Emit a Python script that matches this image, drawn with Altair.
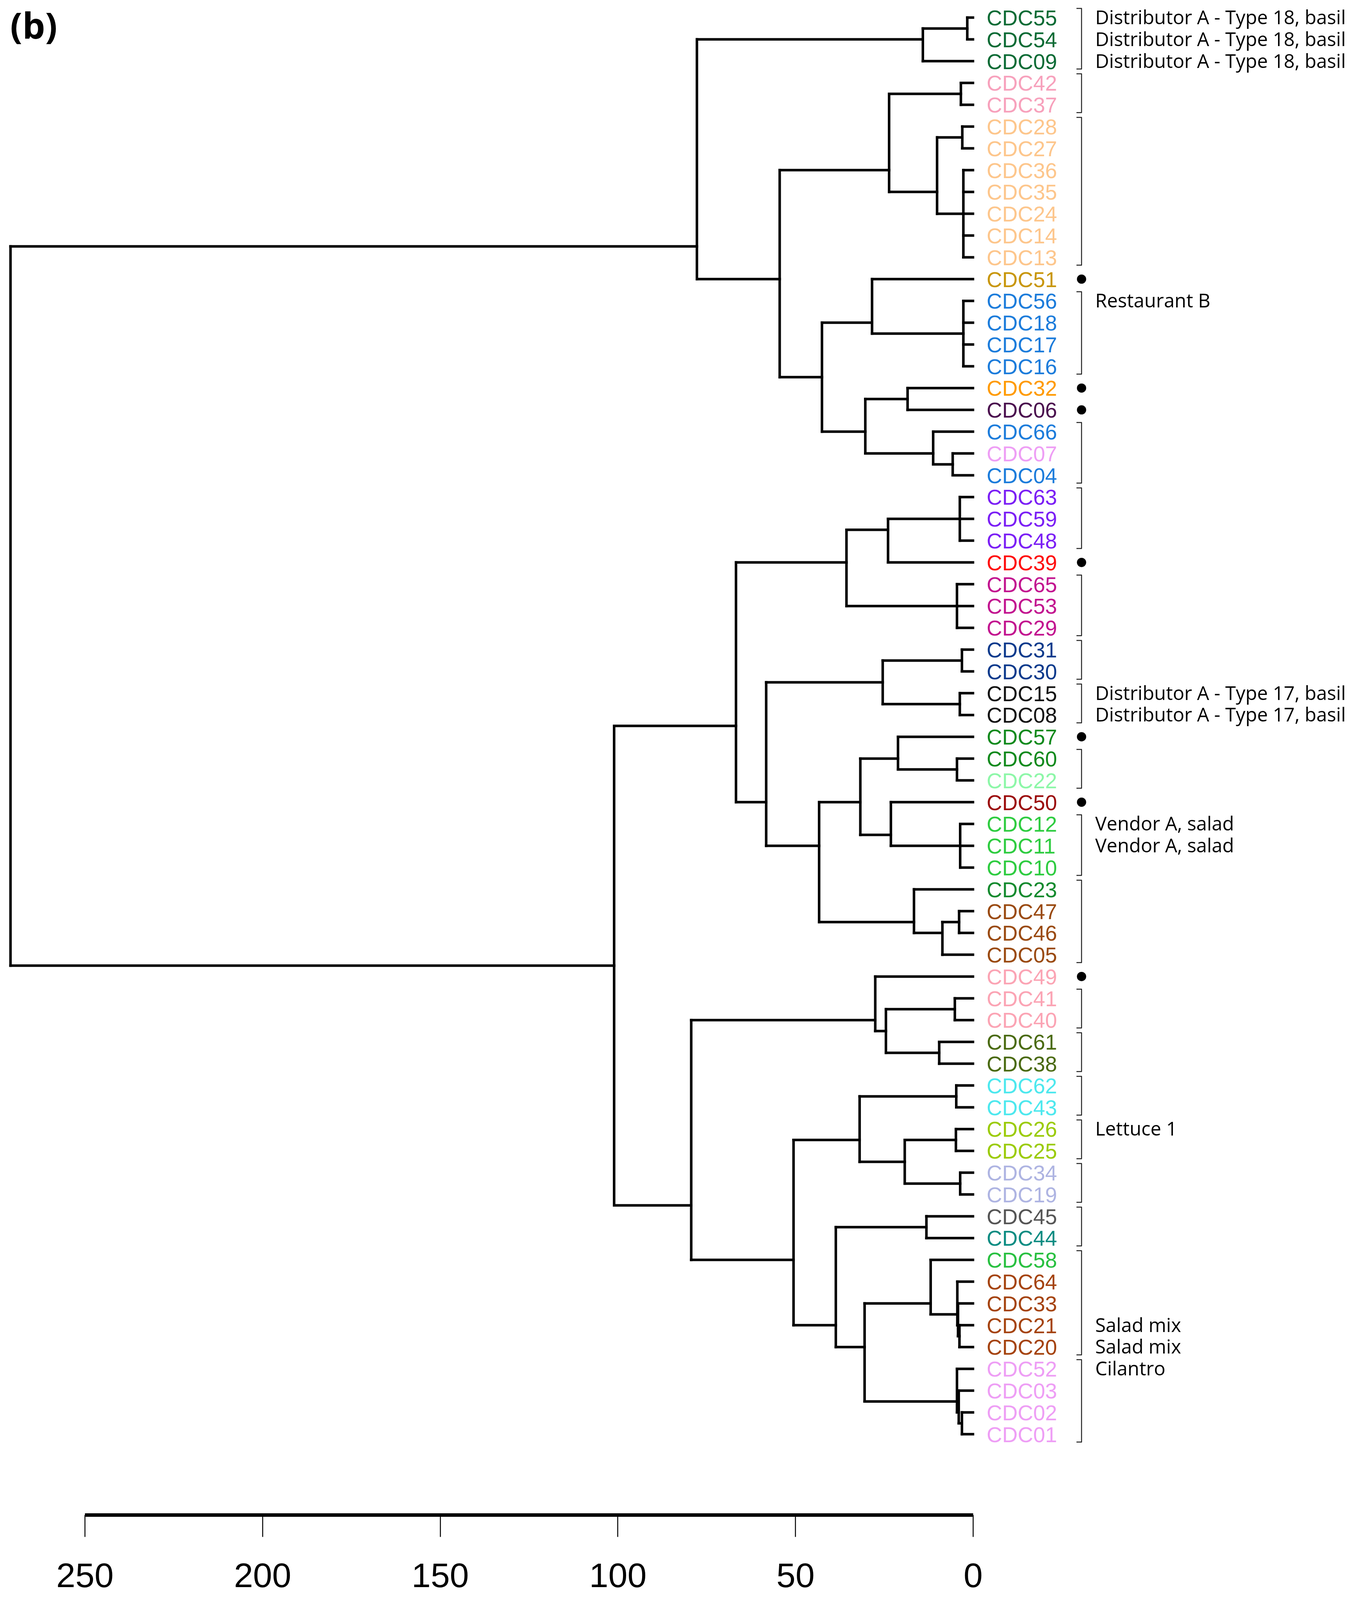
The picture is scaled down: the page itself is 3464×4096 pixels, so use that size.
import altair as alt
import pandas as pd

# ---------------- data ----------------
leaves = ["CDC55", "CDC54", "CDC09", "CDC42", "CDC37", "CDC28", "CDC27", "CDC36",
          "CDC35", "CDC24", "CDC14", "CDC13", "CDC51", "CDC56", "CDC18", "CDC17",
          "CDC16", "CDC32", "CDC06", "CDC66", "CDC07", "CDC04", "CDC63", "CDC59",
          "CDC48", "CDC39", "CDC65", "CDC53", "CDC29", "CDC31", "CDC30", "CDC15",
          "CDC08", "CDC57", "CDC60", "CDC22", "CDC50", "CDC12", "CDC11", "CDC10",
          "CDC23", "CDC47", "CDC46", "CDC05", "CDC49", "CDC41", "CDC40", "CDC61",
          "CDC38", "CDC62", "CDC43", "CDC26", "CDC25", "CDC34", "CDC19", "CDC45",
          "CDC44", "CDC58", "CDC64", "CDC33", "CDC21", "CDC20", "CDC52", "CDC03",
          "CDC02", "CDC01"]

leaf_colors = ["#0B6B35", "#0B6B35", "#0B6B35", "#F7A1BC", "#F7A1BC", "#FDC68C", "#FDC68C", "#FDC68C",
               "#FDC68C", "#FDC68C", "#FDC68C", "#FDC68C", "#C8960A", "#1C7CDB", "#1C7CDB", "#1C7CDB",
               "#1C7CDB", "#FF9A00", "#4A0E4E", "#1C7CDB", "#EE9EF5", "#1C7CDB", "#7B1FF5", "#7B1FF5",
               "#7B1FF5", "#FF0A0A", "#C2138F", "#C2138F", "#C2138F", "#0B3A8C", "#0B3A8C", "#111111",
               "#111111", "#118A1D", "#118A1D", "#8DF7A8", "#9B0A0A", "#2ECC40", "#2ECC40", "#2ECC40",
               "#138A2E", "#9A4A10", "#9A4A10", "#9A4A10", "#FBA4B4", "#FBA4B4", "#FBA4B4", "#4A6A10",
               "#4A6A10", "#4DE8EE", "#4DE8EE", "#9BCB08", "#9BCB08", "#AEB4E2", "#AEB4E2", "#555555",
               "#0A8C82", "#28C040", "#A5430E", "#A5430E", "#A5430E", "#A5430E", "#EE9EF5", "#EE9EF5",
               "#EE9EF5", "#EE9EF5"]

merge_names = ["n1", "n2", "n3", "n4", "n5", "n6", "n7", "n8", "n9", "n10", "n11", "n12",
               "n13", "n14", "n15", "n16", "n17", "n18", "n19", "n20", "n21", "n22", "n23",
               "n24", "n25", "n26", "n27", "n28", "n29", "n30", "n31", "n32", "n33", "n34",
               "n35", "n36", "n37", "n38", "n39", "n40", "n41", "n42", "n43", "n44", "n45",
               "n46", "n47", "n48", "n49", "n50", "n51", "n52", "n53", "n54", "n55", "n56",
               "root"]
merge_children = [
    ["CDC55", "CDC54"], ["n1", "CDC09"], ["CDC42", "CDC37"], ["CDC28", "CDC27"],
    ["CDC36", "CDC35", "CDC24", "CDC14", "CDC13"], ["n4", "n5"], ["n3", "n6"],
    ["CDC56", "CDC18", "CDC17", "CDC16"], ["CDC51", "n8"], ["CDC32", "CDC06"],
    ["CDC07", "CDC04"], ["CDC66", "n11"], ["n10", "n12"], ["n9", "n13"], ["n7", "n14"],
    ["n2", "n15"],
    ["CDC63", "CDC59", "CDC48"], ["n17", "CDC39"], ["CDC65", "CDC53", "CDC29"], ["n18", "n19"],
    ["CDC31", "CDC30"], ["CDC15", "CDC08"], ["n21", "n22"], ["CDC60", "CDC22"],
    ["CDC57", "n24"], ["CDC12", "CDC11", "CDC10"], ["CDC50", "n26"], ["n25", "n27"],
    ["CDC47", "CDC46"], ["n29", "CDC05"], ["CDC23", "n30"], ["n28", "n31"], ["n23", "n32"],
    ["n20", "n33"], ["CDC41", "CDC40"], ["CDC61", "CDC38"], ["n35", "n36"], ["CDC49", "n37"],
    ["CDC62", "CDC43"], ["CDC26", "CDC25"], ["CDC34", "CDC19"], ["n40", "n41"], ["n39", "n42"],
    ["CDC45", "CDC44"], ["CDC21", "CDC20"], ["CDC33", "n45"], ["CDC64", "n46"],
    ["CDC58", "n47"], ["CDC02", "CDC01"], ["CDC03", "n49"], ["CDC52", "n50"], ["n48", "n51"],
    ["n44", "n52"], ["n43", "n53"], ["n38", "n54"], ["n34", "n55"], ["n16", "n56"]]
merge_heights = [1.6, 14.1, 3.4, 3.0, 2.7, 10.1, 23.6, 2.7, 28.4, 18.4, 5.7, 11.2,
                 30.3, 42.5, 54.4, 77.7,
                 3.7, 23.9, 4.5, 35.6, 3.1, 3.7, 25.4, 4.5, 21.1, 3.6, 23.1, 31.7,
                 3.9, 8.6, 16.6, 43.3, 58.2, 66.7, 5.1, 9.5, 24.5, 27.5, 4.7, 4.8,
                 3.6, 19.2, 31.9, 13.1, 3.8, 4.2, 4.4, 11.9, 3.1, 4.0, 4.5, 30.5,
                 38.6, 50.5, 79.3, 101.0, 270.9]

dot_leaves = ["CDC51", "CDC32", "CDC06", "CDC39", "CDC57", "CDC50", "CDC49"]

bracket_first = ["CDC55", "CDC42", "CDC28", "CDC56", "CDC66", "CDC63", "CDC65", "CDC31",
                 "CDC15", "CDC60", "CDC12", "CDC23", "CDC41", "CDC61", "CDC62", "CDC26",
                 "CDC34", "CDC45", "CDC58", "CDC52"]
bracket_last = ["CDC09", "CDC37", "CDC13", "CDC16", "CDC04", "CDC48", "CDC29", "CDC30",
                "CDC08", "CDC22", "CDC10", "CDC05", "CDC40", "CDC38", "CDC43", "CDC25",
                "CDC19", "CDC44", "CDC20", "CDC01"]

note_leaves = ["CDC55", "CDC54", "CDC09", "CDC56", "CDC15", "CDC08", "CDC12", "CDC11",
               "CDC26", "CDC21", "CDC20", "CDC52"]
note_texts = ["Distributor A - Type 18, basil", "Distributor A - Type 18, basil",
              "Distributor A - Type 18, basil", "Restaurant B",
              "Distributor A - Type 17, basil", "Distributor A - Type 17, basil",
              "Vendor A, salad", "Vendor A, salad", "Lettuce 1", "Salad mix", "Salad mix",
              "Cilantro"]

axis_ticks = [0, 50, 100, 150, 200, 250]

# ---------------- build the tree geometry from the topology ----------------
pos = {name: i for i, name in enumerate(leaves)}
hgt = {name: 0.0 for name in leaves}
members = {name: [i] for i, name in enumerate(leaves)}
seg_rows = []
for name, kids, h in zip(merge_names, merge_children, merge_heights):
    mem = []
    for k in kids:
        mem += members[k]
    members[name] = mem
    pos[name] = sum(mem) / len(mem)
    hgt[name] = h
    ys = [pos[k] for k in kids]
    seg_rows.append({"x": h, "x2": h, "y": min(ys), "y2": max(ys)})
    for k in kids:
        seg_rows.append({"x": hgt[k], "x2": h, "y": pos[k], "y2": pos[k]})
segments = pd.DataFrame(seg_rows)

labels = pd.DataFrame({"x": [0] * len(leaves), "y": list(range(len(leaves))),
                       "label": leaves, "color": leaf_colors})
dots = pd.DataFrame({"x": [0] * len(dot_leaves), "y": [pos[d] for d in dot_leaves]})
notes = pd.DataFrame({"x": [0] * len(note_leaves), "y": [pos[n] for n in note_leaves],
                      "text": note_texts})
b_top = [pos[a] - 0.42 for a in bracket_first]
b_bot = [pos[b] + 0.36 for b in bracket_last]
brackets = pd.DataFrame({"x": [0] * len(b_top), "y": b_top, "y2": b_bot})
bticks = pd.DataFrame({"x": [0] * (2 * len(b_top)), "y": b_top + b_bot})

# ---------------- scales / encodings ----------------
xscale = alt.Scale(domain=[0, 250], reverse=True, nice=False, zero=False)
yscale = alt.Scale(domain=[-0.663, 68.70], reverse=True, nice=False, zero=False)
xaxis = alt.Axis(values=axis_ticks, title=None, grid=False, domainWidth=9,
                 domainColor="black", tickColor="black", tickWidth=2.5, tickSize=56,
                 labelFont="Liberation Sans", labelFontSize=88, labelColor="black",
                 labelPadding=58, labelFlush=False, domainCap="butt")


def X(field="x"):
    return alt.X(f"{field}:Q", scale=xscale, axis=xaxis)


def Y(field="y"):
    return alt.Y(f"{field}:Q", scale=yscale, axis=None)


tree = alt.Chart(segments).mark_rule(color="black", strokeWidth=6.5, strokeCap="square").encode(
    x=X(), x2="x2:Q", y=Y(), y2="y2:Q")

leaf_text = alt.Chart(labels).mark_text(align="left", baseline="middle", dx=35, dy=3,
                                        font="Liberation Sans", fontSize=55).encode(
    x=X(), y=Y(), text="label:N", color=alt.Color("color:N", scale=None))

dot_mark = alt.Chart(dots).mark_circle(xOffset=278, size=560, color="black", opacity=1).encode(
    x=X(), y=Y())

bracket_v = alt.Chart(brackets).mark_rule(xOffset=278, color="#222222", strokeWidth=2.5).encode(
    x=X(), y=Y(), y2="y2:Q")
bracket_t = alt.Chart(bticks).mark_rule(xOffset=265, x2Offset=279, color="#222222",
                                        strokeWidth=2.5).encode(
    x=X(), x2="x:Q", y=Y())

note_text = alt.Chart(notes).mark_text(align="left", baseline="middle", dx=313, dy=2,
                                       font="Open Sans", fontSize=49, color="black").encode(
    x=X(), y=Y(), text="text:N")

chart = alt.layer(tree, leaf_text, dot_mark, bracket_v, bracket_t, note_text).properties(
    width=2274, height=3870,
    padding={"left": 209, "right": 965, "top": 0, "bottom": 208},
    autosize=alt.AutoSizeParams(type="none"),
    background="white",
    title=alt.TitleParams("(b)", anchor="start", frame="group", dx=-191, dy=114,
                          font="Open Sans", fontSize=92, fontWeight="bold", color="black"),
).configure_view(strokeOpacity=0, strokeWidth=0)

chart.save("out.html", embed_options={"renderer": "svg", "actions": False})
